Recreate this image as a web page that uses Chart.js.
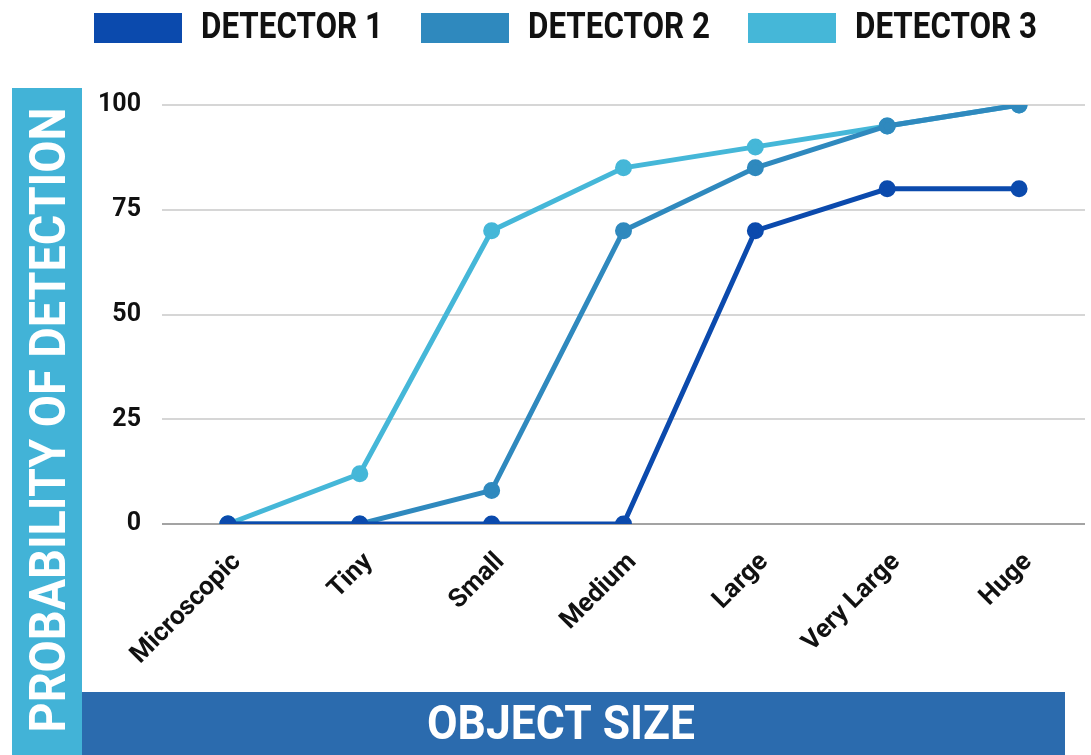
<!DOCTYPE html>
<html>
<head>
<meta charset="utf-8">
<title>Probability of detection by object size</title>
<script src="https://cdn.jsdelivr.net/npm/chart.js@4.4.1/dist/chart.umd.min.js"></script>
<style>
  html, body { margin: 0; padding: 0; background: #fff; }
  #wrap { width: 1091px; height: 755px; position: relative; }
</style>
</head>
<body>
<div id="wrap"><canvas id="chart"></canvas></div>
<script>
// categories and series
const sizes = ['Microscopic', 'Tiny', 'Small', 'Medium', 'Large', 'Very Large', 'Huge'];
const detector1 = [0, 0, 0, 0, 70, 80, 80];
const detector2 = [0, 0, 8, 70, 85, 95, 100];
const detector3 = [0, 12, 70, 85, 90, 95, 100];
const yTicks = [0, 25, 50, 75, 100];

const seriesNames = ['DETECTOR 1', 'DETECTOR 2', 'DETECTOR 3'];
const seriesColors = ['#0b4aad', '#2f89be', '#45b7d8'];
const yTitle = 'PROBABILITY OF DETECTION';
const xTitle = 'OBJECT SIZE';

const FONT = "Roboto, 'Liberation Sans', sans-serif";

// coloured title bands + the legend row across the top
const framePlugin = {
    id: 'frame',
    beforeDraw(chart) {
        const ctx = chart.ctx;
        ctx.save();
        ctx.fillStyle = '#42b3d7';
        ctx.fillRect(12, 88, 70, 667);
        ctx.fillStyle = '#2b6bae';
        ctx.fillRect(82, 692, 983, 63);

        ctx.fillStyle = '#ffffff';
        ctx.textAlign = 'center';
        ctx.textBaseline = 'middle';
        ctx.font = 'bold 50px ' + FONT;
        ctx.translate(50, 420);
        ctx.rotate(-Math.PI / 2);
        ctx.fillText(yTitle, 0, 2, 625);
        ctx.restore();

        ctx.save();
        ctx.fillStyle = '#ffffff';
        ctx.textAlign = 'center';
        ctx.textBaseline = 'middle';
        ctx.font = 'bold 48px ' + FONT;
        ctx.fillText(xTitle, 561, 727, 268);
        ctx.restore();
    },
    afterDraw(chart) {
        const ctx = chart.ctx;
        ctx.save();
        ctx.textAlign = 'left';
        ctx.textBaseline = 'middle';
        ctx.font = 'bold 36px ' + FONT;
        let x = 94;
        chart.data.datasets.forEach(ds => {
            ctx.fillStyle = ds.borderColor;
            ctx.fillRect(x, 13, 88, 30);
            ctx.fillStyle = '#111111';
            ctx.fillText(ds.label, x + 107, 29, 182);
            x += 88 + 19 + 182 + 38;
        });
        ctx.restore();
    }
};

function makeSeries(i, values) {
    return {
        label: seriesNames[i],
        data: values,
        borderColor: seriesColors[i],
        backgroundColor: seriesColors[i],
        pointBackgroundColor: seriesColors[i],
        pointBorderColor: seriesColors[i],
        borderWidth: 5,
        pointRadius: 6,
        pointHoverRadius: 6,
        tension: 0,
        fill: false
    };
}

new Chart(document.getElementById('chart'), {
    type: 'line',
    data: {
        labels: sizes,
        datasets: [
            makeSeries(0, detector1),
            makeSeries(1, detector2),
            makeSeries(2, detector3)
        ]
    },
    options: {
        responsive: true,
        maintainAspectRatio: false,
        animation: false,
        layout: {
            autoPadding: false,
            padding: { top: 105, right: 6, bottom: 0, left: 0 }
        },
        plugins: {
            legend: { display: false },
            tooltip: { enabled: false }
        },
        scales: {
            x: {
                offset: true,
                grid: { display: false, drawTicks: false },
                border: { display: false },
                ticks: {
                    color: '#111111',
                    font: { family: FONT, size: 26, weight: 'bold' },
                    minRotation: 45,
                    maxRotation: 45,
                    padding: 23,
                    labelOffset: 9
                },
                afterFit: (scale) => {
                    scale.height = 231;
                    // rotated labels never reach past the right edge here
                    scale.paddingRight = 0;
                }
            },
            y: {
                min: 0,
                max: 100,
                afterBuildTicks: (scale) => {
                    scale.ticks = yTicks.map(v => ({ value: v }));
                },
                grid: {
                    drawTicks: false,
                    lineWidth: 2,
                    color: (c) => c.tick && c.tick.value === 0 ? '#a3a3a3' : '#d6d6d6'
                },
                border: { display: false },
                ticks: {
                    color: '#111111',
                    font: { family: FONT, size: 25, weight: 'bold' },
                    padding: 21
                },
                afterFit: (scale) => { scale.width = 162; }
            }
        }
    },
    plugins: [framePlugin]
});
</script>
</body>
</html>
